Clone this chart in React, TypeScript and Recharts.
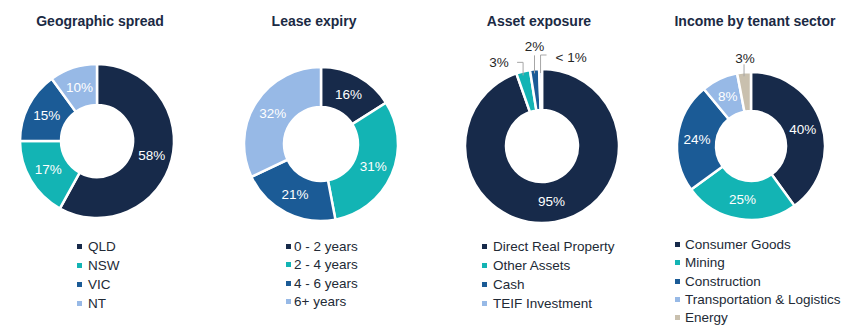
import React from 'react';
import { PieChart, Pie, Cell } from 'recharts';

const NAVY = '#172a4a';
const TEAL = '#13b4b4';
const BLUE = '#1b5b96';
const LIGHT = '#97b9e6';
const BEIGE = '#c9c0ae';

const geoNames = ['QLD', 'NSW', 'VIC', 'NT'];
const geoValues = [58, 17, 15, 10];
const geoLabels = ['58%', '17%', '15%', '10%'];

const leaseNames = ['0 - 2 years', '2 - 4 years', '4 - 6 years', '6+ years'];
const leaseValues = [16, 31, 21, 32];
const leaseLabels = ['16%', '31%', '21%', '32%'];

const assetNames = ['Direct Real Property', 'Other Assets', 'Cash', 'TEIF Investment'];
const assetValues = [94.6, 2.9, 1.9, 0.6];
const assetLabels = ['95%', '3%', '2%', '< 1%'];

const sectorNames = ['Consumer Goods', 'Mining', 'Construction', 'Transportation & Logistics', 'Energy'];
const sectorValues = [40, 25, 24, 8, 3];
const sectorLabels = ['40%', '25%', '24%', '8%', '3%'];

const FONT = 'Arial, "Liberation Sans", sans-serif';
const RADIAN = Math.PI / 180;

// outside labels: rise above ring, horizontal elbow, text offset
type Callout = { rise: number; hx: number; tx: number; ty: number; anchor: 'start' | 'middle' | 'end' };

interface PanelProps {
  left: number;
  width: number;
  title: string;
  titleX: number;
  names: string[];
  values: number[];
  labels: string[];
  colors: string[];
  cx: number;
  cy: number;
  inner: number;
  outer: number;
  legendX: number;
  legendTop: number;
  legendGap: number;
  rowH: number;
  callouts?: Record<number, Callout>;
}

function Panel(p: PanelProps) {
  const data = p.names.map((name, i) => ({ name, value: p.values[i] }));

  const renderLabel = (props: any) => {
    const { cx, cy, midAngle, innerRadius, outerRadius, index } = props;
    const c = p.callouts?.[index];
    if (c) {
      const ex = cx + outerRadius * Math.cos(-midAngle * RADIAN);
      const ey = cy + outerRadius * Math.sin(-midAngle * RADIAN);
      const topY = ey - c.rise;
      const d = `M${ex},${ey + 4} L${ex},${topY} L${ex + c.hx},${topY}`;
      return (
        <g key={`l-${index}`}>
          <path d={d} stroke="#a6a6a6" strokeWidth={1} fill="none" />
          <text
            x={ex + c.tx}
            y={topY + c.ty}
            fill="#262626"
            fontSize={13.5}
            fontFamily={FONT}
            textAnchor={c.anchor}
            dominantBaseline="central"
          >
            {p.labels[index]}
          </text>
        </g>
      );
    }
    const r = (innerRadius + outerRadius) / 2;
    const x = cx + r * Math.cos(-midAngle * RADIAN);
    const y = cy + r * Math.sin(-midAngle * RADIAN);
    return (
      <text
        key={`l-${index}`}
        x={x}
        y={y}
        fill="#ffffff"
        fontSize={13.5}
        fontFamily={FONT}
        textAnchor="middle"
        dominantBaseline="central"
      >
        {p.labels[index]}
      </text>
    );
  };

  return (
    <div style={{ position: 'absolute', left: p.left, top: 0, width: p.width, height: 331 }}>
      <div
        style={{
          position: 'absolute',
          top: 11,
          left: p.titleX - 120,
          width: 240,
          textAlign: 'center',
          fontFamily: FONT,
          fontWeight: 'bold',
          fontSize: 14,
          color: '#1b2a44',
          lineHeight: '20px',
        }}
      >
        {p.title}
      </div>
      <div style={{ position: 'absolute', left: 0, top: 0 }}>
        <PieChart width={p.width} height={235} margin={{ top: 0, right: 0, bottom: 0, left: 0 }}>
          <Pie
            data={data}
            dataKey="value"
            nameKey="name"
            cx={p.cx}
            cy={p.cy}
            innerRadius={p.inner}
            outerRadius={p.outer}
            startAngle={90}
            endAngle={-270}
            stroke="#ffffff"
            strokeWidth={2.5}
            label={renderLabel}
            labelLine={false}
            isAnimationActive={false}
          >
            {data.map((_, i) => (
              <Cell key={i} fill={p.colors[i]} />
            ))}
          </Pie>
        </PieChart>
      </div>
      <div style={{ position: 'absolute', left: p.legendX, top: p.legendTop, fontFamily: FONT, fontSize: 13.5 }}>
        {p.names.map((n, i) => (
          <div key={n} style={{ height: p.rowH, lineHeight: `${p.rowH}px`, whiteSpace: 'nowrap', color: '#222a36' }}>
            <span
              style={{
                display: 'inline-block',
                width: 5,
                height: 5,
                background: p.colors[i],
                marginRight: p.legendGap,
                verticalAlign: 'middle',
                position: 'relative',
                top: -1,
              }}
            />
            {n}
          </div>
        ))}
      </div>
    </div>
  );
}

export default function App() {
  return (
    <div style={{ position: 'absolute', left: 0, top: 0, width: 866, height: 331, background: '#ffffff', overflow: 'hidden' }}>
      <Panel
        left={0}
        width={216}
        title="Geographic spread"
        titleX={100}
        names={geoNames}
        values={geoValues}
        labels={geoLabels}
        colors={[NAVY, TEAL, BLUE, LIGHT]}
        cx={97}
        cy={141}
        inner={36}
        outer={77}
        legendX={77}
        legendTop={237}
        legendGap={6}
        rowH={19}
      />
      <Panel
        left={216}
        width={216}
        title="Lease expiry"
        titleX={98}
        names={leaseNames}
        values={leaseValues}
        labels={leaseLabels}
        colors={[NAVY, TEAL, BLUE, LIGHT]}
        cx={105}
        cy={144}
        inner={37}
        outer={77}
        legendX={70}
        legendTop={238}
        legendGap={3}
        rowH={18.3}
      />
      <Panel
        left={432}
        width={216}
        title="Asset exposure"
        titleX={107}
        names={assetNames}
        values={assetValues}
        labels={assetLabels}
        colors={[NAVY, TEAL, BLUE, LIGHT]}
        cx={110}
        cy={146}
        inner={36}
        outer={77}
        legendX={50}
        legendTop={237}
        legendGap={6}
        rowH={19}
        callouts={{
          1: { rise: 9, hx: -6, tx: -24, ty: 0, anchor: 'middle' },
          2: { rise: 14, hx: 0, tx: 0, ty: -9, anchor: 'middle' },
          3: { rise: 14, hx: 6, tx: 15, ty: 2, anchor: 'start' },
        }}
      />
      <Panel
        left={648}
        width={218}
        title="Income by tenant sector"
        titleX={107}
        names={sectorNames}
        values={sectorValues}
        labels={sectorLabels}
        colors={[NAVY, TEAL, BLUE, LIGHT, BEIGE]}
        cx={103}
        cy={146}
        inner={35}
        outer={74}
        legendX={27}
        legendTop={236}
        legendGap={5}
        rowH={18.3}
        callouts={{
          4: { rise: 8, hx: 0, tx: 1, ty: -6, anchor: 'middle' },
        }}
      />
    </div>
  );
}
